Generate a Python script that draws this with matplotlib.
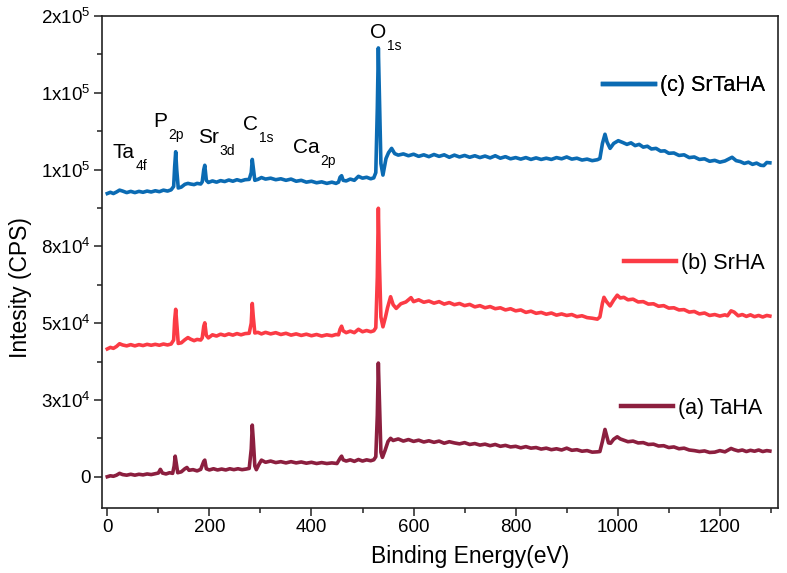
import matplotlib
matplotlib.use("Agg")
import matplotlib.pyplot as plt
from matplotlib.ticker import FixedLocator, FixedFormatter, MultipleLocator

plt.rcParams['font.family'] = ['Liberation Sans', 'DejaVu Sans']
plt.rcParams['mathtext.fontset'] = 'custom'
plt.rcParams['mathtext.rm'] = 'Liberation Sans'
plt.rcParams['mathtext.it'] = 'Liberation Sans'
plt.rcParams['mathtext.bf'] = 'Liberation Sans'

# ---------------- data (binding energy eV, counts) ----------------
taha_points = [
    (0, 0), (6, 300), (12, 150), (18, 500), (24, 1100), (30, 700), (38, 500), (46, 800), (54, 500),
    (62, 800), (70, 600), (78, 900), (86, 700), (94, 1000), (100, 1200), (104, 2400), (108, 1200),
    (115, 900), (122, 1300), (128, 1100), (131, 3500), (133, 6700), (135, 4500), (138, 1300), (145, 1600),
    (152, 2600), (156, 3000), (160, 2100), (168, 2300), (176, 1900), (183, 2400), (189, 5000), (191, 5400),
    (194, 2600), (200, 2200), (208, 2600), (216, 2200), (224, 2500), (232, 2200), (240, 2600), (248, 2300),
    (256, 2600), (264, 2300), (272, 2500), (278, 2700), (282, 9000), (284, 16800), (286, 12000), (289, 3500),
    (292, 2300), (297, 4000), (302, 5400), (310, 4700), (320, 5100), (330, 4600), (340, 4900), (350, 4500),
    (360, 4900), (370, 4500), (380, 4800), (390, 4400), (400, 4700), (410, 4300), (420, 4600), (430, 4300),
    (440, 4500), (450, 4300), (456, 6000), (459, 6700), (462, 5500), (468, 5100), (476, 5500), (484, 5000),
    (492, 5600), (500, 5100), (508, 5500), (516, 5200), (522, 5500), (526, 6500), (529, 20000), (531, 37000),
    (533, 25000), (536, 8000), (539, 6300), (544, 8500), (550, 11500), (555, 12500), (560, 11800),
    (570, 12300), (580, 11600), (590, 12100), (600, 11500), (610, 11900), (620, 11300), (630, 11700),
    (640, 11200), (650, 11600), (660, 10900), (670, 11400), (680, 11000), (690, 10700), (700, 11100),
    (710, 10500), (720, 10800), (730, 10300), (740, 10600), (750, 10100), (760, 10500), (770, 9900),
    (780, 10200), (790, 9700), (800, 9900), (810, 9400), (820, 9800), (830, 9300), (840, 9500), (850, 9000),
    (860, 9300), (870, 8800), (880, 9100), (890, 8700), (900, 9300), (910, 8600), (920, 8800), (930, 8300),
    (940, 8500), (950, 8000), (960, 8100), (965, 8200), (970, 11500), (975, 15400), (978, 13500),
    (982, 11000), (986, 10900), (992, 12200), (999, 13000), (1005, 12300), (1010, 12000), (1020, 11400),
    (1030, 11600), (1040, 11000), (1050, 11100), (1060, 10500), (1070, 10600), (1080, 10000), (1090, 10100),
    (1100, 9500), (1110, 9700), (1120, 9100), (1130, 9300), (1140, 8700), (1150, 8500), (1160, 8200),
    (1170, 8400), (1180, 7900), (1190, 8000), (1200, 8500), (1210, 8100), (1222, 9200), (1228, 8800),
    (1236, 8400), (1244, 8700), (1252, 8200), (1260, 8600), (1268, 8300), (1276, 8700), (1284, 8200),
    (1292, 8500), (1298, 8350)]

srha_points = [
    (0, 41600), (6, 42100), (12, 41800), (18, 42400), (24, 43300), (30, 42900), (38, 42600), (46, 43000),
    (54, 42600), (62, 43000), (70, 42700), (78, 43100), (86, 42800), (94, 43100), (102, 42800), (110, 43200),
    (118, 42900), (125, 43200), (130, 44500), (132, 51000), (134, 54500), (136, 50000), (139, 43400),
    (145, 43600), (152, 44600), (158, 45300), (163, 44800), (170, 44300), (176, 44700), (183, 44500),
    (186, 45200), (189, 49000), (191, 50100), (194, 46000), (198, 45200), (206, 46200), (214, 45800),
    (222, 46400), (230, 46000), (238, 46500), (246, 46100), (254, 46600), (262, 46200), (270, 46600),
    (278, 46700), (282, 50000), (284, 56400), (286, 52000), (289, 46800), (295, 47000), (302, 46500),
    (310, 47000), (320, 46500), (330, 46900), (340, 46300), (350, 46700), (360, 46100), (370, 46500),
    (380, 46000), (390, 46400), (400, 45900), (410, 46300), (420, 45800), (430, 46200), (440, 45900),
    (448, 46300), (453, 46200), (456, 48000), (459, 49000), (462, 47500), (468, 46900), (476, 47400),
    (484, 46900), (492, 48000), (500, 47200), (508, 47600), (516, 47200), (522, 47500), (526, 48500),
    (529, 65000), (531, 87400), (533, 70000), (536, 52000), (540, 48800), (545, 52000), (549, 55000),
    (555, 58600), (560, 56000), (566, 54800), (575, 56300), (585, 56900), (595, 58300), (600, 57000),
    (610, 57600), (620, 56800), (630, 57200), (640, 56500), (650, 57000), (660, 56200), (670, 56700),
    (680, 56000), (690, 56400), (700, 55700), (710, 56100), (720, 55300), (730, 55700), (740, 55000),
    (750, 55400), (760, 54700), (770, 55000), (780, 54300), (790, 54700), (800, 54000), (810, 54300),
    (820, 53500), (830, 53900), (840, 53200), (850, 53500), (860, 52900), (870, 53300), (880, 52600),
    (890, 53000), (900, 52500), (910, 52800), (920, 52100), (930, 52400), (940, 51800), (950, 51600),
    (960, 51300), (965, 52000), (970, 56500), (973, 58400), (978, 57000), (985, 55600), (992, 57500),
    (999, 59100), (1005, 58200), (1012, 58400), (1020, 57600), (1030, 57800), (1040, 56900), (1050, 57000),
    (1060, 56200), (1070, 56300), (1080, 55500), (1090, 55700), (1100, 54900), (1110, 55000), (1120, 54300),
    (1130, 54400), (1140, 53600), (1150, 53800), (1160, 53000), (1170, 53300), (1180, 52500), (1190, 52800),
    (1200, 52300), (1210, 52700), (1215, 52400), (1222, 54000), (1228, 53600), (1236, 52400), (1244, 52800),
    (1252, 52200), (1260, 52700), (1268, 52100), (1276, 52500), (1284, 52000), (1292, 52500), (1298, 52300)]

srtaha_points = [
    (0, 92200), (6, 92600), (12, 92200), (18, 92700), (24, 93300), (30, 93000), (38, 92500), (46, 92900),
    (54, 92500), (62, 92900), (70, 92600), (78, 93000), (86, 92700), (94, 93100), (102, 92800), (110, 93300),
    (118, 93000), (125, 93400), (130, 94500), (132, 101000), (134, 105800), (136, 100000), (139, 94000),
    (145, 94300), (152, 95200), (158, 95500), (163, 95300), (170, 95100), (176, 95500), (183, 95300),
    (186, 96000), (189, 100000), (191, 101400), (194, 96500), (198, 95800), (206, 96300), (214, 95900),
    (222, 96400), (230, 96100), (238, 96600), (246, 96200), (254, 96700), (262, 96300), (270, 96700),
    (278, 96800), (282, 99000), (284, 103300), (286, 100500), (289, 96500), (295, 96800), (302, 97400),
    (310, 96900), (320, 97200), (330, 96700), (340, 97000), (350, 96500), (360, 96900), (370, 96200),
    (380, 96500), (390, 95900), (400, 96200), (410, 95700), (420, 96000), (430, 95500), (440, 95900),
    (448, 95500), (453, 95900), (456, 97500), (459, 98000), (462, 96500), (468, 96300), (476, 96900),
    (484, 96500), (492, 97800), (500, 97200), (508, 97500), (516, 97000), (522, 97300), (526, 99000),
    (529, 120000), (531, 139600), (533, 125000), (536, 102000), (540, 98200), (546, 103600), (551, 105500),
    (557, 106900), (563, 105200), (570, 104700), (580, 105100), (590, 104500), (600, 105000), (610, 104300),
    (620, 104800), (630, 104200), (640, 104900), (650, 104300), (660, 104800), (670, 104000), (680, 104700),
    (690, 104100), (700, 104600), (710, 104000), (720, 104500), (730, 103900), (740, 104400), (750, 103800),
    (760, 104500), (770, 103700), (780, 104200), (790, 103500), (800, 103900), (810, 103400), (820, 103900),
    (830, 103300), (840, 103800), (850, 103300), (860, 103700), (870, 103300), (880, 103900), (890, 103500),
    (900, 104100), (910, 103400), (920, 103700), (930, 103100), (940, 103400), (950, 102900), (960, 103200),
    (965, 103600), (970, 108500), (975, 111500), (979, 109000), (985, 106900), (992, 108500), (1001, 109400),
    (1010, 108800), (1018, 108200), (1026, 108700), (1034, 107800), (1042, 108200), (1050, 107300),
    (1058, 107600), (1066, 106700), (1075, 106900), (1084, 106000), (1092, 106100), (1100, 105300),
    (1110, 105400), (1120, 104600), (1130, 104800), (1140, 103900), (1150, 104100), (1160, 103300),
    (1170, 103500), (1180, 102700), (1190, 103000), (1200, 102400), (1210, 102800), (1218, 103500),
    (1224, 104000), (1232, 102900), (1240, 102600), (1248, 102000), (1256, 102400), (1264, 101700),
    (1272, 102100), (1280, 101400), (1286, 101300), (1292, 102300), (1298, 102200)]

series_labels = ['(a) TaHA', '(b) SrHA', '(c) SrTaHA']
series_colors = ['#8c1f3f', '#fb3b45', '#0b6bb3']

ytick_values = [0, 25000, 50000, 75000, 100000, 125000, 150000]
ytick_labels = ['0', '3x10$^{4}$', '5x10$^{4}$', '8x10$^{4}$', '1x10$^{5}$', '1x10$^{5}$', '2x10$^{5}$']
xtick_values = [0, 200, 400, 600, 800, 1000, 1200]

peak_labels = [('Ta', '4f', 11, 103700), ('P', '2p', 90, 113800), ('Sr', '3d', 178, 108600),
               ('C', '1s', 266, 112800), ('Ca', '2p', 364, 105400), ('O', '1s', 515, 142800)]

# ---------------- figure ----------------
fig = plt.figure(figsize=(7.87, 5.73), dpi=100)
ax = fig.add_axes([0.1292, 0.1134, 0.8594, 0.8587])

lines = []
for pts, c in [(taha_points, series_colors[0]), (srha_points, series_colors[1]),
               (srtaha_points, series_colors[2])]:
    xs = [p[0] for p in pts]
    ys = [p[1] for p in pts]
    ln, = ax.plot(xs, ys, color=c, lw=2.6, solid_joinstyle='round')
    lines.append(ln)

ax.set_xlim(-11, 1314)
ax.set_ylim(-10190, 150000)

ax.xaxis.set_major_locator(FixedLocator(xtick_values))
ax.xaxis.set_minor_locator(MultipleLocator(100))
ax.yaxis.set_major_locator(FixedLocator(ytick_values))
ax.yaxis.set_major_formatter(FixedFormatter(ytick_labels))
ax.yaxis.set_minor_locator(MultipleLocator(12500))

ax.tick_params(axis='both', which='major', direction='out', length=6, width=1.1,
               labelsize=13.5, color='#222222', pad=2)
ax.tick_params(axis='both', which='minor', direction='out', length=3.5, width=1.1, color='#222222')
ax.tick_params(top=False, right=False, which='both')
for s in ax.spines.values():
    s.set_linewidth(1.2)
    s.set_color('#222222')

ax.set_xlabel('Binding Energy(eV)', fontsize=16.5)
ax.set_ylabel('Intesity (CPS)', fontsize=16.5)
ax.xaxis.set_label_coords(0.545, -0.075)
ax.yaxis.set_label_coords(-0.103, 0.449)

# legends (one per curve, as in the original)
leg_pos = [(0.977, 0.2026), (0.981, 0.497), (0.981, 0.858)]
for ln, lab, pos in zip(lines, series_labels, leg_pos):
    lg = ax.legend([ln], [lab], loc='center right', bbox_to_anchor=pos, frameon=False,
                   fontsize=15.5, handlelength=2.4, handletextpad=0.25, borderpad=0, borderaxespad=0)
    lg.get_lines()[0].set_linewidth(3.2)
    ax.add_artist(lg)

# peak annotations
for main, sub, x, y in peak_labels:
    t = ax.text(x, y, main, fontsize=15, ha='left', va='baseline')
    ax.annotate(sub, xy=(1, 0), xycoords=t, xytext=(0.5, 2.5), textcoords='offset points',
                ha='left', va='top', fontsize=10)

fig.savefig('out.png', dpi=100)
